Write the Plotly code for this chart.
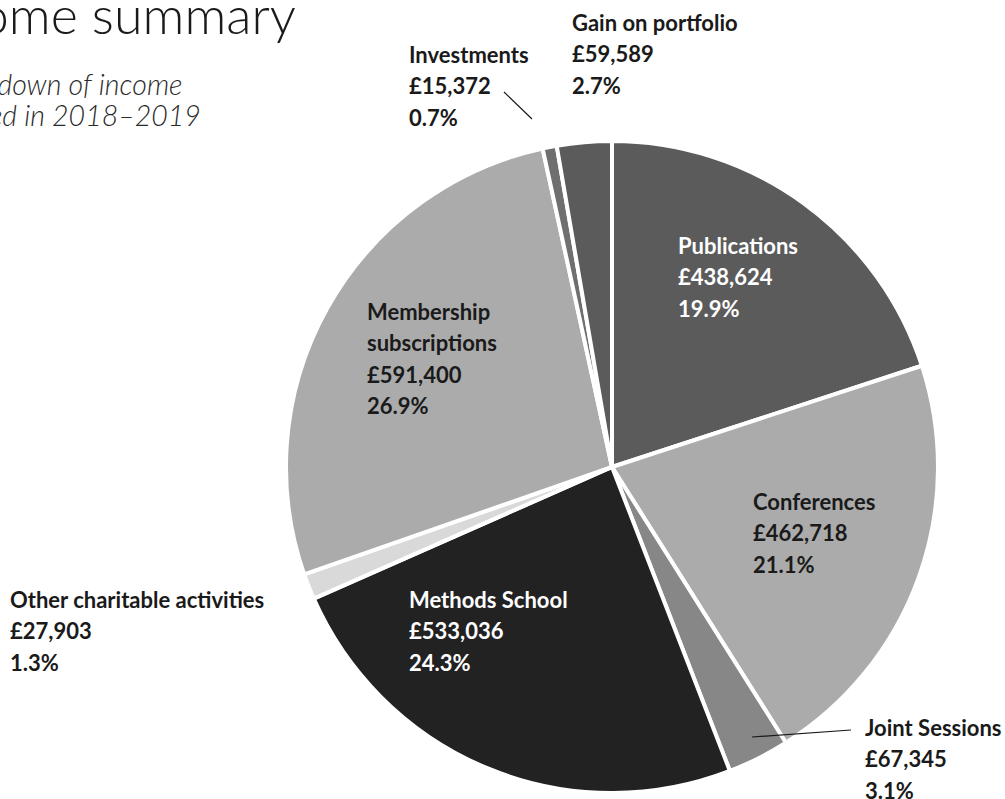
import plotly.graph_objects as go

W, H = 1005, 799

# Income sources, clockwise from 12 o'clock
categories = ["Publications", "Conferences", "Joint Sessions", "Methods School",
              "Other charitable activities", "Membership subscriptions",
              "Investments", "Gain on portfolio"]
amounts = [438624, 462718, 67345, 533036, 27903, 591400, 15372, 59589]
percent_labels = ["19.9%", "21.1%", "3.1%", "24.3%", "1.3%", "26.9%", "0.7%", "2.7%"]
slice_colors = ["#5b5b5b", "#ababab", "#878787", "#222222",
                "#d9d9d9", "#ababab", "#6f6f6f", "#5b5b5b"]

# label block: (category index, title lines, left x px, first line centre y px, text colour)
label_blocks = [
    (0, ["Publications"], 676, 245, "#ffffff"),
    (1, ["Conferences"], 751, 501, "#1a1a1a"),
    (2, ["Joint Sessions"], 863, 727, "#1a1a1a"),
    (3, ["Methods School"], 407, 599, "#ffffff"),
    (4, ["Other charitable activities"], 8, 599, "#1a1a1a"),
    (5, ["Membership", "subscriptions"], 365, 311, "#1a1a1a"),
    (6, ["Investments"], 407, 54, "#1a1a1a"),
    (7, ["Gain on portfolio"], 570, 22, "#1a1a1a"),
]
LINE_STEP = 31.5

FONT = "Lato"

def px(x):
    return x / W

def py(y):
    return 1 - y / H

# pie geometry in pixels
cx, cy, r = 612, 467, 326

fig = go.Figure()
fig.add_trace(go.Pie(
    labels=categories,
    values=amounts,
    sort=False,
    direction="clockwise",
    rotation=0,
    textinfo="none",
    hoverinfo="label+value",
    showlegend=False,
    marker=dict(colors=slice_colors, line=dict(color="#ffffff", width=4)),
    domain=dict(x=[px(cx - r), px(cx + r)], y=[py(cy + r), py(cy - r)]),
))

annotations = []
for idx, title_lines, lx, ly, color in label_blocks:
    lines = title_lines + [f"£{amounts[idx]:,}", percent_labels[idx]]
    for k, line in enumerate(lines):
        annotations.append(dict(
            text=f"<b>{line}</b>", x=px(lx), y=py(ly + k * LINE_STEP),
            xref="paper", yref="paper", xanchor="left", yanchor="middle",
            showarrow=False, font=dict(family=FONT, size=22, color=color),
        ))

# heading and sub-heading, running in from the left edge
annotations.append(dict(
    text="Income summary", x=px(298), y=py(14), xref="paper", yref="paper",
    xanchor="right", yanchor="middle", showarrow=False,
    font=dict(family=FONT, size=52, color="#1a1a1a", weight=300),
))
annotations.append(dict(
    text="<i>Breakdown of income</i>", x=px(184), y=py(84), xref="paper", yref="paper",
    xanchor="right", yanchor="middle", showarrow=False,
    font=dict(family=FONT, size=28.5, color="#2a2a2a", weight=300),
))
annotations.append(dict(
    text="<i>received in 2018–2019</i>", x=px(203), y=py(115), xref="paper", yref="paper",
    xanchor="right", yanchor="middle", showarrow=False,
    font=dict(family=FONT, size=28.5, color="#2a2a2a", weight=300),
))

# leader lines for the small slices
leaders = [((504, 92), (532, 119)), ((752, 737), (851, 730))]
shapes = [dict(type="line", xref="paper", yref="paper",
               x0=px(a[0]), y0=py(a[1]), x1=px(b[0]), y1=py(b[1]),
               line=dict(color="#1a1a1a", width=1.2)) for a, b in leaders]

fig.update_layout(
    width=W, height=H,
    margin=dict(l=0, r=0, t=0, b=0),
    paper_bgcolor="#ffffff", plot_bgcolor="#ffffff",
    annotations=annotations, shapes=shapes,
)

fig.write_html("out.html")
